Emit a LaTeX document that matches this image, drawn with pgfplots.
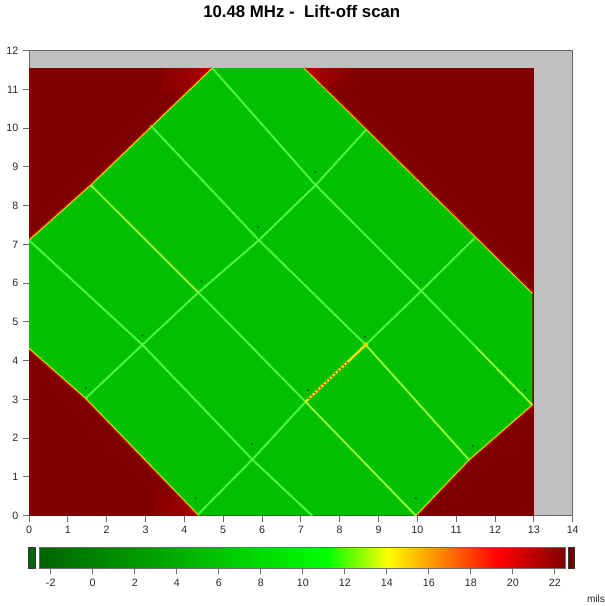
\documentclass[border=0pt]{standalone}
\usepackage{fontspec}
\setmainfont{Liberation Sans}
\usepackage{pgfplots}
\pgfplotsset{compat=1.18}
\definecolor{dred}{RGB}{128,0,0}
\definecolor{bgray}{RGB}{192,192,192}
\definecolor{mgreen}{RGB}{0,192,0}
\definecolor{lgreen}{RGB}{90,255,70}
\definecolor{ygreen}{RGB}{175,255,50}
\definecolor{framegray}{RGB}{105,105,105}
\definecolor{dotgreen}{RGB}{0,95,0}
\definecolor{edgeyel}{RGB}{215,235,0}
\definecolor{tabgreen}{RGB}{0,105,15}
\definecolor{tabred}{RGB}{110,0,0}
\pgfdeclarehorizontalshading{milsshade}{100bp}{rgb(0bp)=(0,0.392,0); rgb(25bp)=(0,0.392,0); rgb(52.35bp)=(0,1,0); rgb(58.14bp)=(1,1,0); rgb(68.63bp)=(1,0,0); rgb(75bp)=(0.5,0,0); rgb(100bp)=(0.5,0,0)}
\begin{document}
\begin{tikzpicture}
\path[use as bounding box] (0pt,0pt) rectangle (453.75pt,454.5pt);
\node[font=\bfseries\fontsize{12.6}{15}\selectfont, inner sep=0pt] at (226.3pt,445.8pt) {10.48 MHz -~ Lift-off scan};
\begin{axis}[at={(21.75pt,67.725pt)}, anchor=south west, scale only axis,
  width=407.775pt, height=348.75pt,
  xmin=0, xmax=14, ymin=0, ymax=12,
  xtick={0,...,14}, ytick={0,...,12},
  axis background/.style={fill=bgray},
  axis line style={framegray, line width=0.75pt},
  tick style={framegray, line width=0.75pt},
  tick align=outside, major tick length=4.5pt,
  xtick pos=bottom, ytick pos=left,
  ticklabel style={font=\fontsize{8}{9}\selectfont, text=black!85},
  /pgf/number format/assume math mode=true,
  grid line/.style={lgreen, line width=0.9pt},
  grid glow/.style={lgreen, line width=2.2pt, opacity=0.3},
  glow/.style={fill=red, fill opacity=0.1, draw=none}]
% lift-off background region
\addplot[fill=dred, draw=none] coordinates {(0,0) (13,0) (13,11.55) (0,11.55)} --cycle;
% brighter red glow near the top corners and bottom
\addplot[glow] coordinates {(3.5,11.55) (4.72,11.55) (3.95,10.8) (3.4,11.0)} --cycle;
\addplot[glow] coordinates {(3.8,11.55) (4.72,11.55) (4.1,10.95) (3.75,11.15)} --cycle;
\addplot[glow] coordinates {(4.1,11.55) (4.72,11.55) (4.25,11.1) (4.05,11.3)} --cycle;
\addplot[glow] coordinates {(4.35,11.55) (4.72,11.55) (4.4,11.25)} --cycle;
\addplot[glow] coordinates {(7.08,11.55) (8.4,11.55) (7.95,10.95) (7.55,11.05)} --cycle;
\addplot[glow] coordinates {(7.08,11.55) (8.1,11.55) (7.8,11.1) (7.5,11.15)} --cycle;
\addplot[glow] coordinates {(7.08,11.55) (7.8,11.55) (7.6,11.25) (7.4,11.25)} --cycle;
\addplot[glow] coordinates {(7.08,11.55) (7.5,11.55) (7.35,11.3)} --cycle;
\addplot[glow] coordinates {(3.2,0) (4.38,0) (3.9,0.5) (3.3,0.75)} --cycle;
\addplot[glow] coordinates {(3.6,0) (4.38,0) (4.05,0.35) (3.7,0.45)} --cycle;
\addplot[glow] coordinates {(3.95,0) (4.38,0) (4.15,0.22)} --cycle;
% red transition band along the edges of the specimen
\addplot[red, line width=2.6pt, opacity=0.55] coordinates {(0,7.11) (1.59,8.53) (4.72,11.55)};
\addplot[red, line width=2.6pt, opacity=0.55] coordinates {(7.08,11.55) (12.96,5.74)};
\addplot[red, line width=2.6pt, opacity=0.55] coordinates {(12.96,2.86) (11.33,1.44) (9.96,0)};
\addplot[red, line width=2.6pt, opacity=0.55] coordinates {(4.38,0) (1.46,3.03) (0,4.32)};
% specimen (green)
\addplot[fill=mgreen, draw=none] coordinates {(0,4.32) (0,7.11) (1.59,8.53) (4.72,11.55) (7.08,11.55) (12.96,5.74) (12.96,2.86) (11.33,1.44) (9.96,0) (4.38,0) (1.46,3.03)} --cycle;
% thin yellow edges
\addplot[edgeyel, line width=0.7pt] coordinates {(0,7.11) (1.59,8.53) (4.72,11.55)};
\addplot[edgeyel, line width=0.6pt] coordinates {(7.08,11.55) (12.96,5.74)};
\addplot[edgeyel, line width=0.7pt] coordinates {(12.96,2.86) (11.33,1.44) (9.96,0)};
\addplot[edgeyel, line width=0.7pt] coordinates {(4.38,0) (1.46,3.03) (0,4.32)};
% grid lines, glow
\addplot[grid glow] coordinates {(0,7.11) (2.92,4.41) (5.75,1.45) (7.29,0)};
\addplot[grid glow] coordinates {(1.59,8.53) (4.36,5.76) (7.12,2.94) (9.96,0)};
\addplot[grid glow] coordinates {(3.13,10.07) (5.92,7.11) (8.67,4.41) (11.33,1.44)};
\addplot[grid glow] coordinates {(4.72,11.55) (7.38,8.53) (10.1,5.8) (12.96,2.86)};
\addplot[grid glow] coordinates {(1.46,3.03) (2.92,4.41) (4.36,5.76) (5.92,7.11) (7.38,8.53) (8.69,9.97)};
\addplot[grid glow] coordinates {(4.38,0.06) (5.75,1.45) (7.12,2.94) (8.67,4.41) (10.1,5.8) (11.48,7.17)};
% grid lines, core
\addplot[grid line] coordinates {(0,7.11) (2.92,4.41) (5.75,1.45) (7.29,0)};
\addplot[grid line] coordinates {(1.59,8.53) (4.36,5.76) (7.12,2.94) (9.96,0)};
\addplot[grid line] coordinates {(3.13,10.07) (5.92,7.11) (8.67,4.41) (11.33,1.44)};
\addplot[grid line] coordinates {(4.72,11.55) (7.38,8.53) (10.1,5.8) (12.96,2.86)};
\addplot[grid line] coordinates {(1.46,3.03) (2.92,4.41) (4.36,5.76) (5.92,7.11) (7.38,8.53) (8.69,9.97)};
\addplot[grid line] coordinates {(4.38,0.06) (5.75,1.45) (7.12,2.94) (8.67,4.41) (10.1,5.8) (11.48,7.17)};
% yellowish segments
\addplot[ygreen, line width=0.9pt] coordinates {(1.59,8.53) (4.36,5.76)};
\addplot[ygreen, line width=0.9pt] coordinates {(7.12,2.94) (9.96,0)};
\addplot[ygreen, line width=0.9pt] coordinates {(8.67,4.41) (11.33,1.44)};
\addplot[ygreen, line width=0.9pt] coordinates {(11.5,4.36) (12.96,2.86)};
% crack
\addplot[yellow!90!orange, line width=1.5pt] coordinates {(7.12,2.94) (8.67,4.41)};
\addplot[red, line width=1.1pt, dash pattern=on 1pt off 2pt] coordinates {(7.2,3.02) (8.2,3.96)};
\addplot[only marks, mark=*, mark size=1.6pt, color=yellow!70!orange, opacity=0.8] coordinates {(8.67,4.41)};
% small markers at the grid nodes
\addplot[only marks, mark=*, mark size=0.55pt, color=dotgreen] coordinates {
 (1.46,3.3) (2.92,4.65) (4.44,6.05) (5.9,7.45) (7.37,8.87)
 (4.29,0.45) (5.75,1.85) (7.18,3.24) (8.65,4.62) (10.07,6.02)
 (9.96,0.45) (11.43,1.8) (12.77,3.24)};
\end{axis}
% colour bar
\begin{axis}[at={(21pt,28.275pt)}, anchor=south west, scale only axis,
  width=410.475pt, height=15.45pt,
  xmin=-3.08, xmax=22.97, ymin=0, ymax=1,
  axis line style={draw=none}, ytick=\empty,
  xtick={-2,0,...,22}, xtick pos=bottom, tick align=outside,
  major tick length=4.5pt, tick style={framegray, line width=0.75pt},
  ticklabel style={font=\fontsize{8}{9}\selectfont, text=black!85},
  /pgf/number format/assume math mode=true, clip=false]
\addplot[shading=milsshade, draw=framegray, line width=0.75pt] coordinates {(-2.54,0) (22.49,0) (22.49,1) (-2.54,1)} --cycle;
\addplot[fill=tabgreen, draw=black!80, line width=0.75pt] coordinates {(-3.04,0) (-2.71,0) (-2.71,1) (-3.04,1)} --cycle;
\addplot[fill=tabred, draw=black!80, line width=0.75pt] coordinates {(22.63,0) (22.95,0) (22.95,1) (22.63,1)} --cycle;
\end{axis}
\node[font=\fontsize{7.6}{9}\selectfont, text=black!85, inner sep=0pt] at (447pt,5.25pt) {mils};
\end{tikzpicture}
\end{document}
